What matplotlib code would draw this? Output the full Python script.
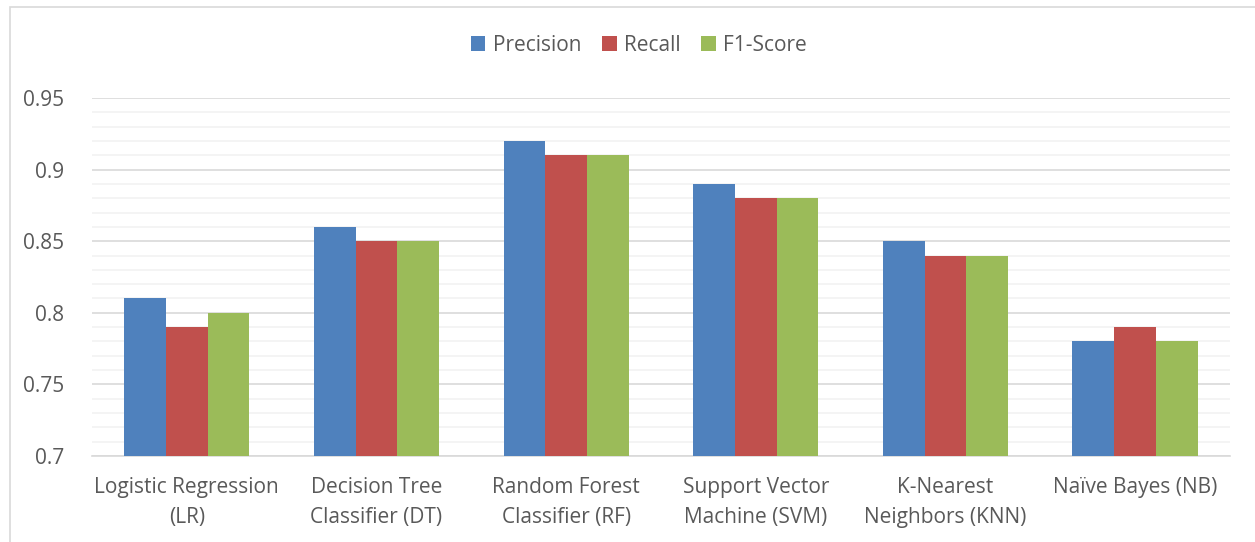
import matplotlib
matplotlib.use("Agg")
import matplotlib.pyplot as plt
import numpy as np
from matplotlib.ticker import MultipleLocator
from matplotlib.patches import Rectangle

categories = ["Logistic Regression\n(LR)", "Decision Tree\nClassifier (DT)", "Random Forest\nClassifier (RF)",
              "Support Vector\nMachine (SVM)", "K-Nearest\nNeighbors (KNN)", "Naïve Bayes (NB)"]
series_names = ["Precision", "Recall", "F1-Score"]
precision = [0.81, 0.86, 0.92, 0.89, 0.85, 0.78]
recall = [0.79, 0.85, 0.91, 0.88, 0.84, 0.79]
f1 = [0.80, 0.85, 0.91, 0.88, 0.84, 0.78]
colors = ["#4F81BD", "#C0504D", "#9BBB59"]

plt.rcParams['font.family'] = ['Open Sans', 'DejaVu Sans']
fig = plt.figure(figsize=(12.55, 5.42), dpi=100)
ax = fig.add_axes([0.0733, 0.1587, 0.9067, 0.6605])

x = np.arange(len(categories))
w = 0.22
for i, (vals, name, c) in enumerate(zip([precision, recall, f1], series_names, colors)):
    ax.bar(x + (i - 1) * w, np.array(vals) - 0.7, width=w, bottom=0.7, color=c, label=name, zorder=3)

ax.set_ylim(0.7, 0.95)
ax.set_xlim(-0.5, len(categories) - 0.5)
ax.yaxis.set_minor_locator(MultipleLocator(0.01))
ax.set_yticks([0.7, 0.75, 0.8, 0.85, 0.9, 0.95])
ax.set_yticklabels(["0.7", "0.75", "0.8", "0.85", "0.9", "0.95"])
ax.grid(which='major', axis='y', color='#D9D9D9', linewidth=1.2, zorder=0)
ax.grid(which='minor', axis='y', color='#F2F2F2', linewidth=1.2, zorder=0)
ax.set_xticks(x)
ax.set_xticklabels(categories, linespacing=1.6)
ax.tick_params(axis='both', which='both', length=0, labelsize=15, colors='#595959')
ax.tick_params(axis='x', pad=15)
ax.tick_params(axis='y', pad=20)
for s in ['top', 'right', 'left']:
    ax.spines[s].set_visible(False)
ax.spines['bottom'].set_color('#D9D9D9')
ax.spines['bottom'].set_linewidth(1.2)

leg = fig.legend(loc='center', bbox_to_anchor=(0.509, 0.916), ncol=3, frameon=False,
                 fontsize=15, handlelength=0.7, handleheight=0.7, handletextpad=0.35, columnspacing=1.0)
for t in leg.get_texts():
    t.set_color('#595959')

fig.patches.append(Rectangle((10 / 1255, -0.1), 1.2, 1 - 7 / 542 + 0.1, transform=fig.transFigure,
                             fill=False, edgecolor='#D9D9D9', linewidth=1.2))

fig.savefig("out.png", dpi=100)
